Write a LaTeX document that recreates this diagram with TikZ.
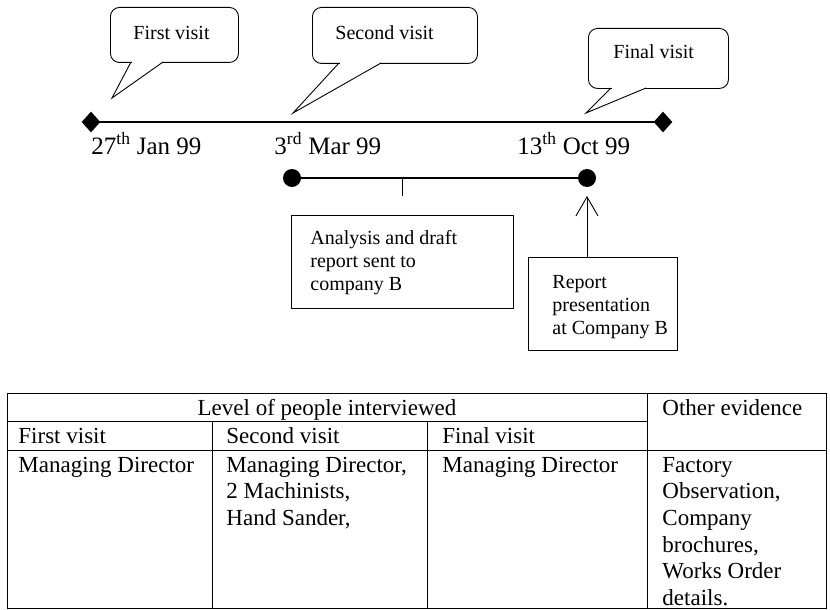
\documentclass[tikz,border=0pt]{standalone}
\usepackage{fontspec}
\setmainfont{Liberation Serif}
\usetikzlibrary{shapes.geometric,arrows.meta}
\newcommand\szBubble{\fontsize{20}{23}\selectfont}
\newcommand\szDate{\fontsize{25}{29}\selectfont}
\newcommand\szNote{\fontsize{20}{23}\selectfont}
\newcommand\szTable{\fontsize{23}{26.7}\selectfont}
\begin{document}
\begin{tikzpicture}[x=1pt,y=-1pt,
  line width=0.9pt,
  txt/.style={inner sep=0pt, anchor=base west},
  bubble/.style={draw, rounded corners=9pt, inner sep=0pt, anchor=north west},
  tail/.style={line join=miter},
  diam/.style={diamond, fill=black, inner sep=0pt, minimum width=19pt, minimum height=21pt},
  dot/.style={circle, fill=black, inner sep=0pt, minimum size=18pt},
  notebox/.style={draw, inner sep=0pt, anchor=north west},
  axis/.style={line width=1.6pt},
  span/.style={line width=1.4pt},
  rule/.style={line width=0.9pt}]
\useasboundingbox (0,0) rectangle (830,610);
\fill[white] (0,0) rectangle (830,610);

% ---- callouts above the time line
\node[bubble, minimum width=128pt, minimum height=55pt] (c1) at (110,7) {};
\fill[white] (132,60.5) rectangle (162,63.5);
\draw[tail] (131,62) coordinate (c1a) -- (112,98) coordinate (c1t) -- (163,62) coordinate (c1b);
\node[txt] (t1) at (133,40) {\szBubble First visit};

\node[bubble, minimum width=165pt, minimum height=56pt] (c2) at (312,7) {};
\fill[white] (340,61.5) rectangle (380,64.5);
\draw[tail] (339,63) coordinate (c2a) -- (293,113) coordinate (c2t) -- (381,63) coordinate (c2b);
\node[txt] (t2) at (335,40) {\szBubble Second visit};

\node[bubble, minimum width=140pt, minimum height=60pt] (c3) at (588,28) {};
\fill[white] (612,86.5) rectangle (645,89.5);
\draw[tail] (611,88) coordinate (c3a) -- (586,113) coordinate (c3t) -- (646,88) coordinate (c3b);
\node[txt] (t3) at (613,59) {\szBubble Final visit};

% ---- main time line
\node[diam] (dL) at (91,122) {};
\node[diam] (dR) at (663,122) {};
\draw[axis] (dL.center) -- (dR.center);

\node[txt] (date1) at (91,154) {\szDate 27\textsuperscript{th} Jan 99};
\node[txt] (date2) at (274,154) {\szDate 3\textsuperscript{rd} Mar 99};
\node[txt] (date3) at (517,154) {\szDate 13\textsuperscript{th} Oct 99};

% ---- analysis period
\node[dot] (p1) at (292,178) {};
\node[dot] (p2) at (587,178) {};
\draw[span] (p1.center) -- (p2.center);
\coordinate (tickTop) at (402,178);
\coordinate (tickEnd) at (402,196);
\draw (tickTop) -- (tickEnd);

\node[notebox, minimum width=222pt, minimum height=93pt] (ab) at (291,215) {};
\node[txt] (ab1) at (310,244) {\szNote Analysis and draft};
\node[txt] (ab2) at (310,267) {\szNote report sent to};
\node[txt] (ab3) at (310,290) {\szNote company B};

\node[notebox, minimum width=149pt, minimum height=93pt] (rb) at (528,257) {};
\node[txt] (rb1) at (552,288) {\szNote Report};
\node[txt] (rb2) at (552,311) {\szNote presentation};
\node[txt] (rb3) at (552,334) {\szNote at Company B};
\coordinate (arrTip) at (587,196);
\draw[-{Straight Barb[length=19pt,width=22pt]}] (rb.north -| p2) -- (arrTip);

% ---- interview table
\draw[rule] (7,393) rectangle (826,608);
\draw[rule] (7,421) -- (647,421);
\draw[rule] (7,450) -- (826,450);
\draw[rule] (212,421) -- (212,608);
\draw[rule] (427,421) -- (427,608);
\draw[rule] (647,393) -- (647,608);

\node[txt, anchor=base] (lvl) at (327,415) {\szTable Level of people interviewed};
\node[txt] (oth) at (662,415) {\szTable Other evidence};
\node[txt] (h1) at (18,443) {\szTable First visit};
\node[txt] (h2) at (226,443) {\szTable Second visit};
\node[txt] (h3) at (442,443) {\szTable Final visit};

\node[txt] (fv0) at (18,472) {\szTable Managing Director};
\foreach \ln [count=\i from 0] in {{Managing Director,},{2 Machinists,},{Hand Sander,}}
  \node[txt] (sv\i) at (226,{472+26.7*\i}) {\szTable\ln};
\node[txt] (nv0) at (442,472) {\szTable Managing Director};
\foreach \ln [count=\i from 0] in {{Factory},{Observation,},{Company},{brochures,},{Works Order},{details.}}
  \node[txt] (ev\i) at (662,{472+26.7*\i}) {\szTable\ln};
\end{tikzpicture}
\end{document}
